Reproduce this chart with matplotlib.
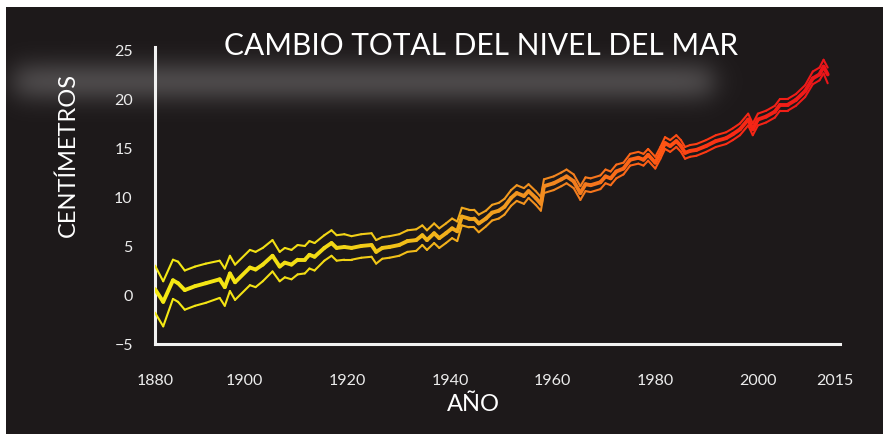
import numpy as np
import matplotlib.pyplot as plt
from matplotlib.collections import LineCollection
from matplotlib.colors import LinearSegmentedColormap, Normalize
from matplotlib.patches import Rectangle

# =========================
# Data (cm of sea level change)
# =========================
YEARS = [1882.5, 1884.1, 1886.0, 1887.0, 1888.3, 1890.3, 1892.4, 1895.1, 1896.1, 1897.1,
         1898.1, 1901.0, 1902.1, 1903.5, 1905.4, 1906.8, 1907.8, 1909.1, 1910.3, 1911.7,
         1912.6, 1913.6, 1915.5, 1916.9, 1917.9, 1919.4, 1920.8, 1922.7, 1924.7, 1925.6,
         1926.8, 1928.2, 1930.1, 1931.7, 1933.4, 1934.6, 1935.5, 1936.9, 1937.9, 1939.2,
         1940.4, 1941.4, 1942.3, 1943.7, 1944.7, 1945.6, 1947.0, 1948.2, 1949.5, 1950.6,
         1951.9, 1953.0, 1954.4, 1955.3, 1956.7, 1957.7, 1958.3, 1960.2, 1961.7, 1962.7,
         1964.1, 1965.4, 1966.4, 1967.4, 1969.3, 1970.3, 1971.3, 1972.4, 1973.8, 1975.1,
         1976.7, 1977.7, 1978.6, 1980.0, 1981.0, 1981.9, 1982.9, 1984.1, 1985.0, 1985.8,
         1986.8, 1988.0, 1989.9, 1991.8, 1993.8, 1995.1, 1996.5, 1998.1, 1999.0, 2000.0,
         2001.6, 2003.3, 2004.3, 2005.8, 2007.4, 2009.2, 2010.7, 2012.0, 2012.8, 2013.6]

CENTRAL = [0.6, -0.7, 1.5, 1.2, 0.5, 0.9, 1.2, 1.6, 0.8, 2.2,
           1.3, 2.8, 2.6, 3.1, 4.0, 2.9, 3.3, 3.1, 3.6, 3.6,
           4.1, 3.9, 4.8, 5.3, 4.8, 4.9, 4.8, 5.0, 5.1, 4.4,
           4.8, 4.9, 5.1, 5.5, 5.6, 6.1, 5.6, 6.3, 5.8, 6.3,
           6.8, 6.5, 8.0, 7.8, 7.8, 7.3, 7.8, 8.4, 8.6, 9.0,
           9.9, 10.4, 10.1, 10.6, 9.9, 9.3, 11.1, 11.4, 11.8, 12.1,
           11.6, 10.4, 11.3, 11.2, 11.5, 12.1, 11.9, 12.6, 12.9, 13.8,
           14.0, 13.8, 14.3, 13.5, 14.5, 15.5, 15.2, 15.7, 15.2, 14.5,
           14.7, 14.8, 15.2, 15.7, 16.0, 16.4, 16.9, 17.9, 16.9, 17.9,
           18.2, 18.7, 19.4, 19.4, 19.9, 20.8, 22.1, 22.5, 23.3, 22.5]

UPPER = [3.0, 1.4, 3.6, 3.4, 2.5, 2.9, 3.2, 3.5, 2.7, 4.0,
         3.1, 4.6, 4.4, 4.8, 5.6, 4.4, 4.8, 4.6, 5.1, 5.0,
         5.5, 5.3, 6.1, 6.6, 6.1, 6.2, 6.0, 6.2, 6.3, 5.6,
         5.9, 6.0, 6.2, 6.6, 6.7, 7.1, 6.6, 7.3, 6.8, 7.3,
         7.8, 7.5, 8.9, 8.7, 8.7, 8.2, 8.6, 9.2, 9.4, 9.8,
         10.7, 11.2, 10.9, 11.3, 10.6, 10.0, 11.8, 12.1, 12.5, 12.8,
         12.3, 11.1, 12.0, 11.9, 12.2, 12.8, 12.6, 13.3, 13.5, 14.4,
         14.6, 14.4, 14.9, 14.1, 15.1, 16.1, 15.8, 16.3, 15.8, 15.1,
         15.3, 15.4, 15.8, 16.3, 16.6, 17.0, 17.5, 18.5, 17.5, 18.5,
         18.8, 19.3, 20.0, 20.0, 20.5, 21.4, 22.8, 23.2, 24.0, 23.2]

LOWER = [-1.8, -3.2, -0.4, -0.7, -1.5, -1.1, -0.8, -0.3, -1.1, 0.4,
         -0.5, 1.0, 0.8, 1.4, 2.4, 1.4, 1.8, 1.6, 2.1, 2.2,
         2.7, 2.5, 3.5, 4.0, 3.5, 3.6, 3.6, 3.8, 3.9, 3.2,
         3.7, 3.8, 4.0, 4.4, 4.5, 5.1, 4.6, 5.3, 4.8, 5.3,
         5.8, 5.5, 7.1, 6.9, 6.9, 6.4, 7.0, 7.6, 7.8, 8.2,
         9.1, 9.6, 9.3, 9.9, 9.2, 8.6, 10.4, 10.7, 11.1, 11.4,
         10.9, 9.7, 10.6, 10.5, 10.8, 11.4, 11.2, 11.9, 12.3, 13.2,
         13.4, 13.2, 13.7, 12.9, 13.9, 14.9, 14.6, 15.1, 14.6, 13.9,
         14.1, 14.2, 14.6, 15.1, 15.4, 15.8, 16.3, 17.3, 16.3, 17.3,
         17.6, 18.1, 18.8, 18.8, 19.3, 20.2, 21.5, 21.9, 22.6, 21.6]

X_LEFT, X_RIGHT = 1882.5, 2016.0
X_TICK_POS = [X_LEFT, 1900, 1920, 1940, 1960, 1980, 2000, 2015]
X_TICK_LABELS = ["1880", "1900", "1920", "1940", "1960", "1980", "2000", "2015"]
Y_TICKS = [-5, 0, 5, 10, 15, 20, 25]

BG = "#1d191a"
TXT = "#ececec"
FONT = ["Lato", "DejaVu Sans"]

# yellow -> amber -> orange -> red along the years
CMAP = LinearSegmentedColormap.from_list("sea", [
    (0.00, (0.96, 0.92, 0.08)),
    (0.25, (0.95, 0.86, 0.08)),
    (0.40, (0.95, 0.72, 0.10)),
    (0.51, (0.95, 0.62, 0.12)),
    (0.62, (0.95, 0.50, 0.12)),
    (0.74, (1.00, 0.36, 0.08)),
    (0.85, (0.98, 0.17, 0.08)),
    (1.00, (0.92, 0.08, 0.10)),
])
NORM = Normalize(vmin=1882, vmax=2014)


def gradient_line(ax, x, y, lw):
    x = np.asarray(x, dtype=float)
    y = np.asarray(y, dtype=float)
    pts = np.column_stack([x, y])
    segs = np.stack([pts[:-1], pts[1:]], axis=1)
    mids = (x[:-1] + x[1:]) / 2
    lc = LineCollection(segs, colors=CMAP(NORM(mids)), linewidths=lw,
                        capstyle="round", joinstyle="round", zorder=3)
    ax.add_collection(lc)


def blurred_band(fig):
    # soft grey smear under the title, as in the reference
    bg = fig.add_axes([0, 0, 1, 1], zorder=0)
    bg.axis("off")
    H, W = 435, 883
    yy, xx = np.mgrid[0:H, 0:W]
    ay = np.exp(-((yy - 82) / 21.0) ** 2)
    ax_ = 1 / (1 + np.exp(-(xx - 14) / 8.0)) * 1 / (1 + np.exp((xx - 712) / 8.0))
    img = np.zeros((H, W, 4))
    img[..., 0] = 0.38
    img[..., 1] = 0.365
    img[..., 2] = 0.37
    img[..., 3] = 0.7 * ay * ax_
    bg.imshow(img, extent=[0, W, H, 0], aspect="auto", interpolation="bilinear")
    bg.set_xlim(0, W)
    bg.set_ylim(H, 0)


def main():
    fig = plt.figure(figsize=(8.83, 4.35), dpi=100, facecolor=BG)
    blurred_band(fig)

    ax = fig.add_axes([155 / 883, 90 / 435, 685 / 883, 297 / 435], zorder=2)
    ax.set_facecolor("none")

    gradient_line(ax, YEARS, UPPER, 1.5)
    gradient_line(ax, YEARS, LOWER, 1.5)
    gradient_line(ax, YEARS, CENTRAL, 2.8)

    ax.set_xlim(X_LEFT, X_RIGHT)
    ax.set_ylim(-5, 25.3)

    for side in ["top", "right"]:
        ax.spines[side].set_visible(False)
    for side in ["left", "bottom"]:
        ax.spines[side].set_color("#f2f2f2")
        ax.spines[side].set_linewidth(2.2)

    ax.set_xticks(X_TICK_POS)
    ax.set_xticklabels(X_TICK_LABELS)
    ax.set_yticks(Y_TICKS)
    ax.tick_params(axis="x", length=0, pad=21, labelsize=11.5, labelcolor=TXT)
    ax.tick_params(axis="y", length=0, pad=16, labelsize=11.5, labelcolor=TXT)
    for lab in ax.get_xticklabels() + ax.get_yticklabels():
        lab.set_family(FONT)

    fig.text(481 / 883, 1 - 46 / 435, "CAMBIO TOTAL DEL NIVEL DEL MAR",
             ha="center", va="center", color="white", fontsize=21.5, family=FONT)
    fig.text(68 / 883, 1 - 155 / 435, "CENTÍMETROS", rotation=90,
             ha="center", va="center", color="white", fontsize=17, family=FONT)
    fig.text(473 / 883, 1 - 405 / 435, "AÑO",
             ha="center", va="center", color="white", fontsize=17, family=FONT)

    # white frame strips at the top and left edges of the screenshot
    fig.patches.append(Rectangle((0, 1 - 8 / 435), 1, 8 / 435, transform=fig.transFigure,
                                 facecolor="white", edgecolor="none", zorder=5))
    fig.patches.append(Rectangle((0, 0), 6 / 883, 1, transform=fig.transFigure,
                                 facecolor="white", edgecolor="none", zorder=5))

    fig.savefig("out.png", dpi=100, facecolor=fig.get_facecolor())
    print("Plot completed")


if __name__ == "__main__":
    main()
